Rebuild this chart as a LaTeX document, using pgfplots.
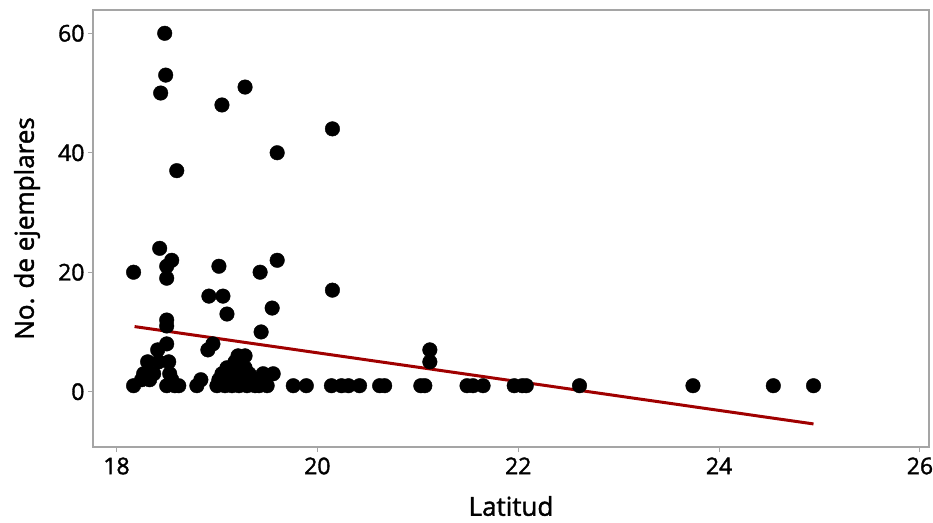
\documentclass[border=0pt]{standalone}
\usepackage{pgfplots}
\pgfplotsset{compat=1.18}
\usepackage{fontspec}
\setmainfont{Open Sans}[FakeBold=1.6]
\definecolor{regred}{RGB}{160,0,0}
\definecolor{axgray}{RGB}{165,165,165}
\begin{document}
\begin{tikzpicture}
\begin{axis}[name=ax, scale only axis, width=836pt, height=437pt,
 xmin=17.766, xmax=26.09, ymin=-9.26, ymax=63.9,
 xtick={18,20,22,24,26}, ytick={0,20,40,60},
 axis line style={axgray, line width=1.2pt},
 tick style={axgray, line width=1pt},
 tick align=outside, major tick length=5pt,
 xtick pos=bottom, ytick pos=left,
 ticklabel style={font=\fontsize{23}{25}\selectfont},
 /pgf/number format/assume math mode=true,
 xticklabel style={yshift=-2pt},
 xlabel={Latitud}, ylabel={No. de ejemplares},
 label style={font=\fontsize{26}{29}\selectfont},
 xlabel style={at={(axis description cs:0.5,0)}, anchor=center, yshift=-59pt},
 ylabel style={at={(axis description cs:0,0.5)}, anchor=center, rotate=0, yshift=66pt},
 clip=false,
]
\addplot[only marks, mark=*, mark size=7.3pt, mark options={fill=black, draw=black}] coordinates {
(18.48,60)(18.49,53)(18.44,50)(19.28,51)(19.05,48)(20.15,44)(19.6,40)(18.6,37)
(18.43,24)(18.17,20)(18.55,22)(18.5,21)(18.5,19)(19.02,21)(19.6,22)(19.43,20)(20.15,17)
(18.92,16)(19.06,16)(19.55,14)(19.1,13)(18.5,12)(18.5,11)(19.44,10)
(18.96,8)(18.91,7)(18.5,8)(18.41,7)
(18.17,1)(18.25,2)(18.27,3)(18.31,5)(18.33,2)(18.37,3)(18.42,5)(18.52,5)(18.53,3)(18.5,1)(18.55,2)(18.58,1)(18.62,1)
(18.8,1)(18.84,2)(19.0,1)(19.02,2)(19.05,3)(19.08,1)(19.1,4)(19.13,2)(19.15,1)(19.18,5)(19.2,3)(19.21,6)(19.22,1)(19.25,2)(19.28,6)(19.28,4)(19.3,1)(19.32,3)(19.35,2)(19.38,1)(19.42,1)(19.46,3)(19.5,1)(19.56,3)
(19.76,1)(19.89,1)(20.14,1)(20.24,1)(20.31,1)(20.42,1)(20.62,1)(20.67,1)(21.03,1)(21.07,1)(21.49,1)(21.55,1)(21.65,1)(21.96,1)(22.04,1)(22.08,1)(22.61,1)(23.74,1)(24.54,1)(24.94,1)
(21.12,7)(21.12,5)
};
\addplot[regred, line width=3pt] coordinates {(18.18,10.9)(24.94,-5.4)};
\end{axis}
\pgfresetboundingbox
\path (ax.north east) ++(4pt,10pt) coordinate (ne);
\path (ax.south west) ++(-93pt,-75pt) rectangle (ne);
\end{tikzpicture}
\end{document}
